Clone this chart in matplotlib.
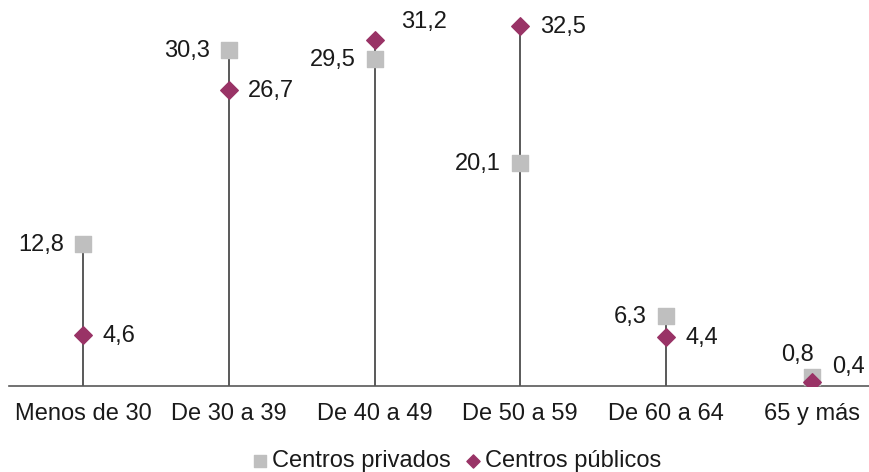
import matplotlib.pyplot as plt

plt.rcParams["font.family"] = ["Liberation Sans", "DejaVu Sans"]

categorias = ["Menos de 30", "De 30 a 39", "De 40 a 49", "De 50 a 59", "De 60 a 64", "65 y más"]
privados = [12.8, 30.3, 29.5, 20.1, 6.3, 0.8]
publicos = [4.6, 26.7, 31.2, 32.5, 4.4, 0.4]

# label offsets in pixels (dx, dy)
off_priv = [(-19, -1), (-19, -1), (-19, -1), (-19, -1), (-19, -1), (-14, 22)]
off_pub = [(19, -1), (19, -1), (27, 18), (20, -1), (20, -1), (20, 15)]

gris = "#BFBFBF"
morado = "#993366"

fig = plt.figure(figsize=(8.7, 4.72), dpi=100)
ax = fig.add_axes([9 / 870, 86 / 472, 861 / 870, 376.7 / 472])

x = list(range(len(categorias)))
tops = [max(a, b) for a, b in zip(privados, publicos)]
ax.vlines(x, 0, tops, color="#595959", lw=1.4, zorder=1)
ax.scatter(x, privados, marker="s", s=130, color=gris, zorder=3, label="Centros privados")
ax.scatter(x, publicos, marker="D", s=80, color=morado, zorder=4, label="Centros públicos")

fmt = lambda v: f"{v:.1f}".replace(".", ",")
for i in x:
    dx, dy = off_priv[i]
    ax.annotate(fmt(privados[i]), (i, privados[i]), xytext=(dx, dy),
                textcoords="offset pixels", ha="right" if dy <= 0 else "center",
                va="center", fontsize=17, color="#1a1a1a")
    dx, dy = off_pub[i]
    ax.annotate(fmt(publicos[i]), (i, publicos[i]), xytext=(dx, dy),
                textcoords="offset pixels", ha="left", va="center",
                fontsize=17, color="#1a1a1a")

ax.set_xlim(-0.508, 5.40)
ax.set_ylim(0, 34)
ax.set_xticks(x)
ax.set_xticklabels(categorias, fontsize=17, color="#1a1a1a")
ax.tick_params(axis="x", length=0, pad=12)
ax.set_yticks([])
for s in ["top", "right", "left"]:
    ax.spines[s].set_visible(False)
ax.spines["bottom"].set_color("#595959")
ax.spines["bottom"].set_linewidth(1.2)
ax.patch.set_alpha(0)

fig.legend(loc="center", bbox_to_anchor=(0.525, 11 / 472), ncol=2, frameon=False,
           fontsize=17, handlelength=0.7, handletextpad=0.15, columnspacing=0.6,
           markerscale=0.75, labelcolor="#1a1a1a", borderpad=0.1)

fig.savefig("out.png", dpi=100)
